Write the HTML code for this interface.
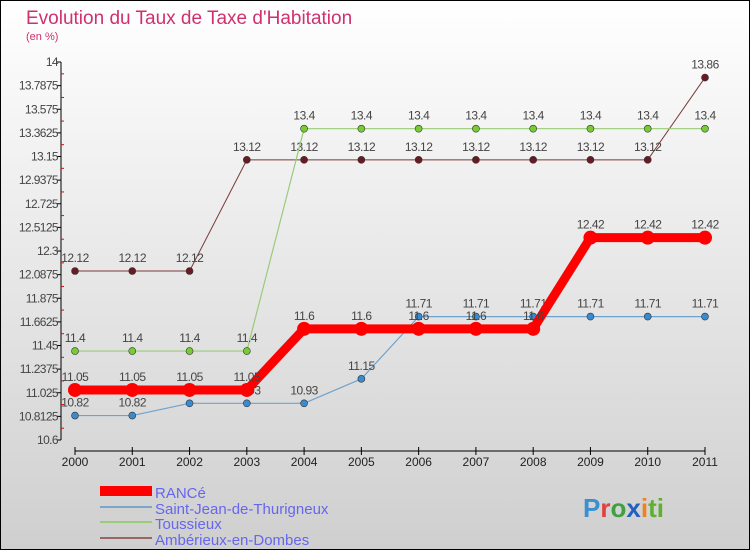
<!DOCTYPE html>
<html><head><meta charset="utf-8"><style>
body{margin:0}
#c{width:750px;height:550px;position:relative;overflow:hidden;font-family:"Liberation Sans",sans-serif}
</style></head><body>
<div id="c">
<svg id="s" width="750" height="550" xmlns="http://www.w3.org/2000/svg">
<defs><linearGradient id="bg" x1="0" y1="0" x2="0" y2="1"><stop offset="0" stop-color="#ffffff"/><stop offset="1" stop-color="#cfcfcf"/></linearGradient></defs>
<rect x="0.5" y="0.5" width="749" height="549" fill="url(#bg)" stroke="#000"/>
<text x="26" y="24" font-size="19" fill="#d0306e">Evolution du Taux de Taxe d'Habitation</text>
<text x="26" y="40" font-size="11" fill="#d0306e">(en %)</text>
<g id="plot"></g>
<g>
<rect x="100" y="486" width="52" height="10" fill="#ff0000"/>
<text x="155" y="498" font-size="15" fill="#6666ee">RANCé</text>
<rect x="100" y="506" width="52" height="2" fill="#7aa6cc"/>
<text x="155" y="514" font-size="15" fill="#6666ee">Saint-Jean-de-Thurigneux</text>
<rect x="100" y="521" width="52" height="2" fill="#99cc77"/>
<text x="155" y="529" font-size="15" fill="#6666ee">Toussieux</text>
<rect x="100" y="537" width="52" height="2" fill="#996666"/>
<text x="155" y="545" font-size="15" fill="#6666ee">Ambérieux-en-Dombes</text>
</g>
<g font-size="26" font-weight="bold">
<text x="583" y="517"><tspan fill="#3a8fd0">P</tspan><tspan fill="#e04040">r</tspan><tspan fill="#40a040">o</tspan><tspan fill="#2060c0">x</tspan><tspan fill="#f08020">i</tspan><tspan fill="#60b030">ti</tspan></text>
</g>
</svg>
</div>
<script>
const years=["2000","2001","2002","2003","2004","2005","2006","2007","2008","2009","2010","2011"];
const yTicks=["10.6","10.8125","11.025","11.2375","11.45","11.6625","11.875","12.0875","12.3","12.5125","12.725","12.9375","13.15","13.3625","13.575","13.7875","14"];
const rance=[11.05,11.05,11.05,11.05,11.6,11.6,11.6,11.6,11.6,12.42,12.42,12.42];
const saintJean=[10.82,10.82,10.93,10.93,10.93,11.15,11.71,11.71,11.71,11.71,11.71,11.71];
const toussieux=[11.4,11.4,11.4,11.4,13.4,13.4,13.4,13.4,13.4,13.4,13.4,13.4];
const amberieux=[12.12,12.12,12.12,13.12,13.12,13.12,13.12,13.12,13.12,13.12,13.12,13.86];
const NS="http://www.w3.org/2000/svg";
const g=document.getElementById('plot');
const yMin=10.6,yMax=14,yTop=62,yBot=440,xL=75,xR=705;
const X=i=>xL+(xR-xL)*i/(years.length-1);
const Y=v=>yBot-(v-yMin)/(yMax-yMin)*(yBot-yTop);
function el(t,a){const e=document.createElementNS(NS,t);for(const k in a)e.setAttribute(k,a[k]);g.appendChild(e);return e;}
let e=el('line',{x1:61,y1:yTop,x2:61,y2:yBot,stroke:'#000'});


yTicks.forEach((t,i)=>{const v=parseFloat(t),y=Y(v);
 el('line',{x1:57,y1:y,x2:61,y2:y,stroke:'#000'});
 if(i<yTicks.length-1)el('line',{x1:61,y1:y-11.8,x2:64,y2:y-11.8,stroke:'#e00'});
 const tx=el('text',{x:58,y:y+4,'font-size':12,fill:'#444','text-anchor':'end','letter-spacing':'-0.6'});tx.textContent=t;
 
 
});
e=el('line',{x1:X(0),y1:451,x2:X(11),y2:451,stroke:'#000'});


years.forEach((yr,i)=>{const x=X(i);el('line',{x1:x,y1:447,x2:x,y2:455,stroke:'#000'});
 const tx=el('text',{x:x,y:466,'font-size':12,fill:'#222','text-anchor':'middle'});tx.textContent=yr;
 
 
});
function series(d,name,col,w,r,dot){
 const p=el('polyline',{points:d.map((v,i)=>X(i)+','+Y(v)).join(' '),fill:'none',stroke:col,'stroke-width':w,'stroke-linejoin':'round'});
 
 
 d.forEach((v,i)=>{const c=el('circle',{cx:X(i),cy:Y(v),r:r,fill:dot,stroke:'#333','stroke-width':r>5?0:0.6});
  
  
  const t=el('text',{x:X(i),y:Y(v)-9,'font-size':12,fill:'#444','text-anchor':'middle','letter-spacing':'-0.5'});t.textContent=String(v);
  
  
 });
}
series(amberieux,'amberieux','#7a3a3a',1,3.5,'#6a1a22');
series(toussieux,'toussieux','#99cc77',1.2,3.5,'#77cc33');
series(saintJean,'saint-jean','#6fa2cc',1.2,3.5,'#3a8ad0');
series(rance,'rance','#ff0000',9,7,'#ff0000');
</script>
</body></html>
